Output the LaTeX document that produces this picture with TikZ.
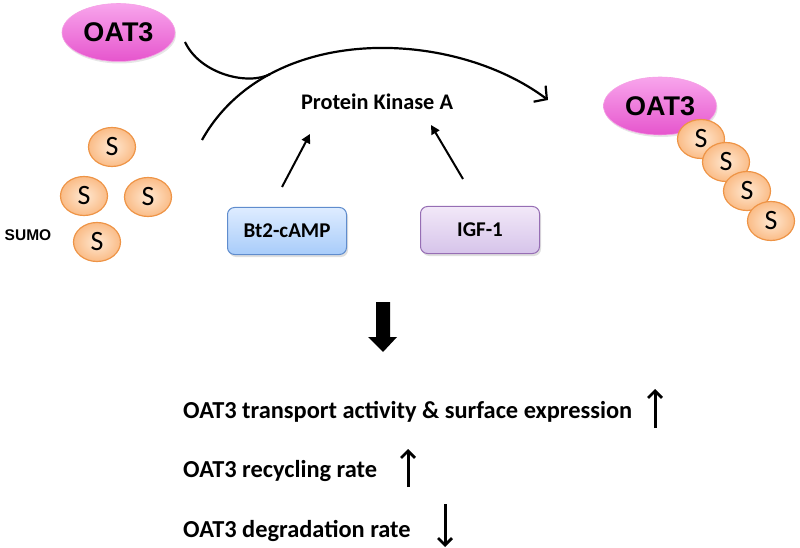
\documentclass[tikz,border=0pt]{standalone}
\usepackage{fontspec}
\setmainfont{Carlito}
\newfontfamily\arialf{Liberation Sans}
\usetikzlibrary{arrows.meta,shadows,shapes.geometric}
\definecolor{pinktop}{RGB}{248,165,236}
\definecolor{pinkmid}{RGB}{240,110,220}
\definecolor{pinkbot}{RGB}{230,85,205}
\definecolor{pinkline}{RGB}{245,160,228}
\definecolor{sin}{RGB}{255,232,210}
\definecolor{sout}{RGB}{250,188,135}
\definecolor{sline}{RGB}{238,148,70}
\definecolor{btop}{RGB}{222,236,255}
\definecolor{bbot}{RGB}{168,204,250}
\definecolor{bline}{RGB}{95,140,205}
\definecolor{ptop}{RGB}{242,232,248}
\definecolor{pbot}{RGB}{214,196,234}
\definecolor{pline}{RGB}{150,110,180}
\tikzset{
  oatnode/.style={ellipse, minimum width=113pt, minimum height=58pt, inner sep=0pt,
    top color=pinktop, middle color=pinkmid, bottom color=pinkbot, draw=pinkline, line width=0.6pt,
    drop shadow={opacity=0.2, shadow xshift=1pt, shadow yshift=-2pt},
    font=\arialf\bfseries\fontsize{27}{27}\selectfont},
  snode/.style={ellipse, minimum width=47pt, minimum height=39pt, inner sep=0pt,
    inner color=sin, outer color=sout, draw=sline, line width=1.2pt,
    font=\fontsize{28}{28}\selectfont},
  boxnode/.style={rounded corners=7pt, minimum width=119pt, minimum height=47pt,
    line width=1pt, font=\bfseries\fontsize{21}{21}\selectfont,
    drop shadow={opacity=0.25, shadow xshift=1.5pt, shadow yshift=-2.5pt}},
  smallarrow/.style={line width=2pt, -{Triangle[length=9pt,width=9pt]}},
  resarrow/.style={line width=3pt, -{Straight Barb[length=7pt,width=14pt,line width=2.8pt]}},
  restext/.style={anchor=base west, inner sep=0pt, font=\bfseries\fontsize{24.4}{24.4}\selectfont},
}
\begin{document}
\begin{tikzpicture}[x=1pt,y=-1pt]
\useasboundingbox (0,0) rectangle (800,548);

% left OAT3
\node[oatnode] (oatL) at (118.5,32.5) {OAT3};

% SUMO cluster
\node[snode] (s1) at (112,147) {S};
\node[snode] (s2) at (84,196) {S};
\node[snode] (s3) at (148,197) {S};
\node[snode] (s4) at (97,242) {S};
\node[font=\arialf\bfseries\fontsize{15.5}{15.5}\selectfont, inner sep=0pt] (sumo) at (28,235) {SUMO};

% right OAT3 with SUMO chain
\node[oatnode] (oatR) at (660,106) {OAT3};
\node[snode] (r1) at (701,139) {S};
\node[snode] (r2) at (726,162) {S};
\node[snode] (r3) at (747,191) {S};
\node[snode] (r4) at (771,221) {S};

% PKA
\node[font=\bfseries\fontsize{22.3}{22.3}\selectfont, inner sep=0pt] (pka) at (377,102) {Protein Kinase A};

% boxes
\node[boxnode, top color=btop, bottom color=bbot, draw=bline] (bt2) at (287,231) {Bt2-cAMP};
\node[boxnode, top color=ptop, bottom color=pbot, draw=pline] (igf) at (480,230) {IGF-1};

% arcs
\coordinate (arcstart) at (202,140);
\coordinate (arctip) at (548,100);
\draw[line width=2.2pt, -{Straight Barb[length=9pt,width=20pt,line width=2.2pt]}]
  (arcstart) .. controls (268,22) and (452,28) .. (arctip);
\coordinate (oatout) at (185,42);
\coordinate (merge) at (270.5,73.9);
\coordinate (mergectl) at (248,86);
\draw[line width=2.2pt] (oatout) .. controls (200,74) and (mergectl) .. (merge);

% activator arrows
\coordinate (bt2a) at (282,187);
\coordinate (bt2b) at (310,134);
\coordinate (igfa) at (463,179);
\coordinate (igfb) at (431,125);
\draw[smallarrow] (bt2a) -- (bt2b);
\draw[smallarrow] (igfa) -- (igfb);

% big down arrow
\fill (376,302) -- (390,302) -- (390,337) -- (397,337) -- (383,352) -- (368,337) -- (376,337) -- cycle;

% results
\node[restext] (r1t) at (183,418) {OAT3 transport activity \& surface expression};
\node[restext] (r2t) at (183,477) {OAT3 recycling rate};
\node[restext] (r3t) at (183,537) {OAT3 degradation rate};
\coordinate (u1a) at (655,428);
\coordinate (u1b) at (655,389);
\coordinate (u2a) at (408,487);
\coordinate (u2b) at (408,449);
\coordinate (d3a) at (445,504);
\coordinate (d3b) at (445,547);
\draw[resarrow] (u1a) -- (u1b);
\draw[resarrow] (u2a) -- (u2b);
\draw[resarrow] (d3a) -- (d3b);
\end{tikzpicture}
\end{document}
